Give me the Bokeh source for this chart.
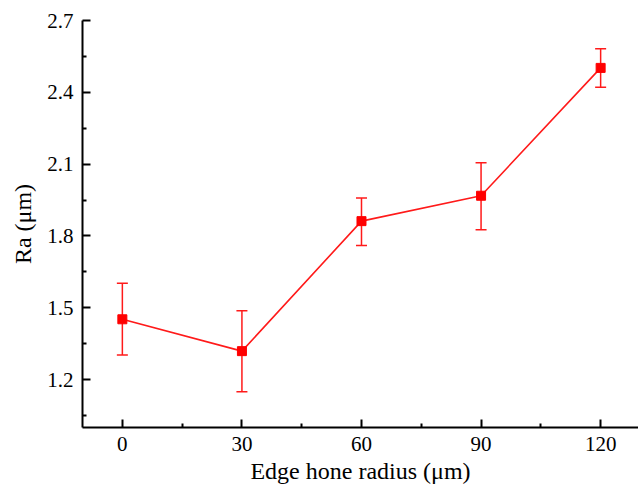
from bokeh.plotting import figure
from bokeh.models import ColumnDataSource, Whisker, TeeHead, FixedTicker, Range1d
from bokeh.embed import file_html
from bokeh.resources import INLINE

# Data
hone_radius = [0, 30, 60, 90, 120]
ra = [1.452, 1.319, 1.862, 1.968, 2.502]
ra_lower = [1.303, 1.149, 1.760, 1.826, 2.421]
ra_upper = [1.603, 1.488, 1.959, 2.106, 2.582]

x_ticks = [0, 30, 60, 90, 120]
x_minor = [15, 45, 75, 105]
y_ticks = [1.2, 1.5, 1.8, 2.1, 2.4, 2.7]
y_minor = [1.05, 1.35, 1.65, 1.95, 2.25, 2.55]

src = ColumnDataSource(data=dict(x=hone_radius, y=ra, lower=ra_lower, upper=ra_upper))

FONT = "Liberation Serif"

p = figure(width=638, height=492, output_backend="svg", toolbar_location=None,
           x_range=Range1d(-10, 129.5), y_range=Range1d(1.0, 2.7),
           min_border_left=82, min_border_right=0, min_border_top=20, min_border_bottom=65)
p.outline_line_color = None
p.xgrid.visible = False
p.ygrid.visible = False
p.background_fill_color = "white"
p.border_fill_color = "white"

w = Whisker(source=src, base="x", upper="upper", lower="lower", dimension="height",
            line_color="#ff1a1a", line_width=1.5)
w.upper_head = TeeHead(size=11, line_color="#ff1a1a", line_width=1.5)
w.lower_head = TeeHead(size=11, line_color="#ff1a1a", line_width=1.5)
p.add_layout(w)

p.line("x", "y", source=src, line_color="#ff1a1a", line_width=1.6)
p.scatter("x", "y", source=src, marker="square", size=9, fill_color="#ff0000", line_color="#ff0000")

for ax in (p.xaxis[0], p.yaxis[0]):
    ax.axis_line_width = 2
    ax.axis_line_color = "black"
    ax.major_tick_in = 8
    ax.major_tick_out = 0
    ax.minor_tick_in = 4
    ax.minor_tick_out = 0
    ax.major_tick_line_width = 2
    ax.minor_tick_line_width = 2
    ax.major_label_text_font = FONT
    ax.major_label_text_font_size = "21px"
    ax.major_label_text_color = "black"
    ax.axis_label_text_font = FONT
    ax.axis_label_text_font_size = "24px"
    ax.axis_label_text_font_style = "normal"
    ax.axis_label_text_color = "black"

p.xaxis[0].ticker = FixedTicker(ticks=x_ticks, minor_ticks=x_minor)
p.yaxis[0].ticker = FixedTicker(ticks=y_ticks, minor_ticks=y_minor)
p.xaxis[0].axis_label = "Edge hone radius (μm)"
p.yaxis[0].axis_label = "Ra (μm)"
p.xaxis[0].major_label_standoff = 9
p.yaxis[0].major_label_standoff = 9
p.xaxis[0].axis_label_standoff = 4
p.yaxis[0].axis_label_standoff = 8

open("out.html", "w").write(file_html(p, INLINE))
